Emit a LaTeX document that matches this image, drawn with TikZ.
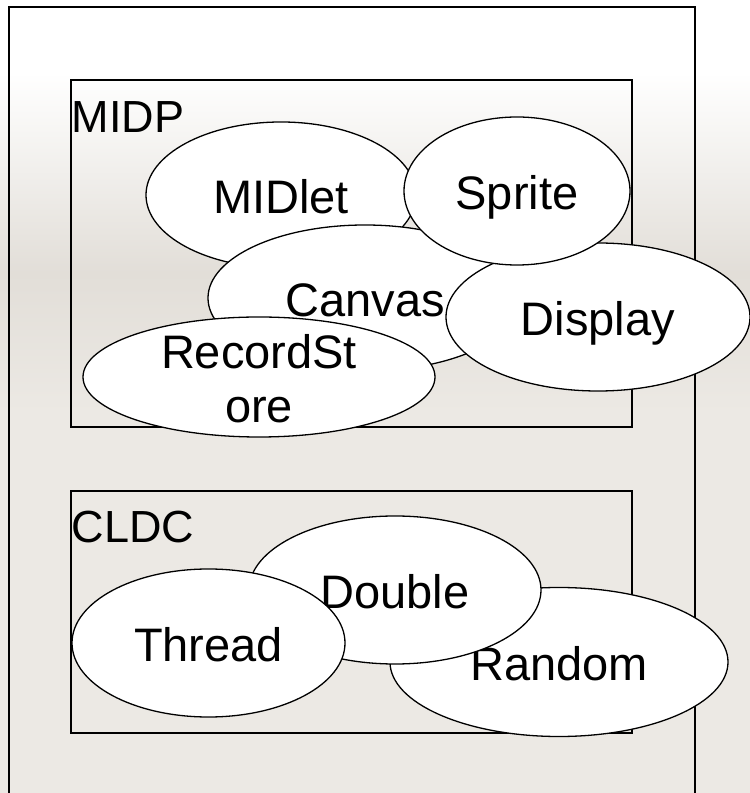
\documentclass[tikz,border=0pt]{standalone}
\usepackage{fontspec}
\setmainfont{Liberation Sans}
\usetikzlibrary{shapes.geometric}
\definecolor{bgA}{RGB}{226,222,216}
\definecolor{bgB}{RGB}{236,233,228}
\tikzset{
  frame/.style={draw=black, line width=1.3pt, inner sep=0pt, fill=none},
  blob/.style={ellipse, draw=black, fill=white, line width=1.3pt, inner sep=0pt,
    font=\fontsize{47}{54}\selectfont, text height=38pt, text depth=0pt},
  boxlabel/.style={inner sep=0pt, anchor=base west, font=\fontsize{45}{54}\selectfont},
  blobtext/.style={inner sep=0pt, align=center, font=\fontsize{47}{54}\selectfont}
}
\begin{document}
\begin{tikzpicture}[x=1pt,y=1pt]
\useasboundingbox (0,0) rectangle (750,793);
% background
\fill[white] (0,720) rectangle (750,793);
\shade[top color=white, bottom color=bgA] (0,520) rectangle (750,720.5);
\shade[top color=bgA, bottom color=bgB] (0,380) rectangle (750,520.5);
\fill[bgB] (0,0) rectangle (750,380.5);
% frames
\node[frame, minimum width=686pt, minimum height=800pt] (outer) at (352,386) {};
\node[frame, minimum width=561pt, minimum height=347pt] (midp) at (351.5,539.5) {};
\node[frame, minimum width=561pt, minimum height=242pt] (cldc) at (351.5,181) {};
\node[boxlabel] (midplabel) at (71.5,660) {MIDP};
\node[boxlabel] (cldclabel) at (71.5,250) {CLDC};
% MIDP ellipses
\node[blob, minimum width=270pt, minimum height=146pt] (midlet) at (281,598) {MIDlet};
\node[blob, minimum width=314pt, minimum height=146pt] (canvas) at (365,495) {Canvas};
\node[blob, minimum width=304pt, minimum height=148pt] (display) at (598,476) {Display};
\node[blob, minimum width=226pt, minimum height=148pt] (sprite) at (517,602) {Sprite};
\node[blob, minimum width=352pt, minimum height=120pt, text height=0pt] (recordstore) at (259,416) {};
\node[blobtext] (rstext) at (259,414.5) {RecordSt\\ore};
% CLDC ellipses
\node[blob, minimum width=338pt, minimum height=149pt] (random) at (559,131) {Random};
\node[blob, minimum width=292pt, minimum height=148pt] (double) at (395,203) {Double};
\node[blob, minimum width=273pt, minimum height=148pt] (thread) at (208.5,150) {Thread};
\end{tikzpicture}
\end{document}
